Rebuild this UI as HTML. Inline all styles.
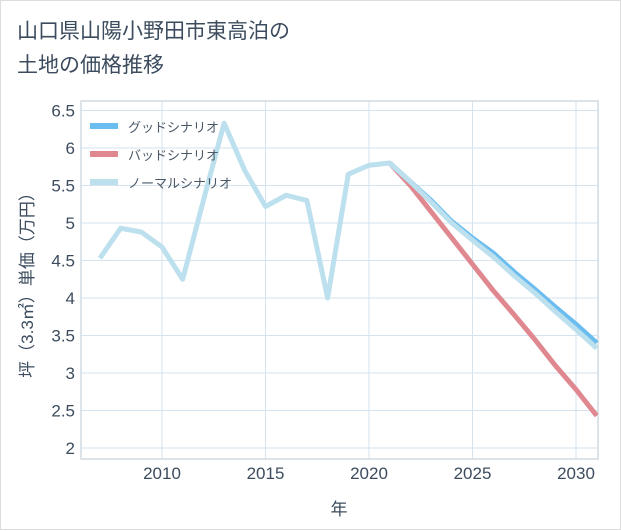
<!DOCTYPE html>
<html><head><meta charset="utf-8"><style>
body{margin:0;background:#fff;font-family:"Liberation Sans","Noto Sans CJK JP",sans-serif;}
#wrap{position:relative;width:621px;height:530px;box-sizing:border-box;border:1px solid #ddd;}
#title{position:absolute;left:16px;top:14px;font-size:21px;line-height:34px;color:#3c4c5e;}
</style></head><body>
<div id="wrap">
<div id="title">山口県山陽小野田市東高泊の<br>土地の価格推移</div>
<svg id="svg" width="621" height="530" style="position:absolute;left:0;top:0"></svg>
</div>
<script>
const years=[2007,2008,2009,2010,2011,2012,2013,2014,2015,2016,2017,2018,2019,2020,2021,2022,2023,2024,2025,2026,2027,2028,2029,2030,2031];
const normal=[4.53,4.93,4.88,4.68,4.25,5.3,6.33,5.7,5.22,5.37,5.3,4.0,5.65,5.77,5.8,5.55,5.28,5.0,4.77,4.55,4.3,4.07,3.82,3.58,3.33];
const goodYears=[2021,2022,2023,2024,2025,2026,2027,2028,2029,2030,2031];
const good=[5.8,5.55,5.3,5.02,4.8,4.6,4.35,4.12,3.88,3.65,3.4];
const bad=[5.8,5.5,5.15,4.8,4.45,4.1,3.78,3.45,3.1,2.78,2.43];
const yTicks=[2,2.5,3,3.5,4,4.5,5,5.5,6,6.5];
const xTicks=[2010,2015,2020,2025,2030];
const NS="http://www.w3.org/2000/svg",svg=document.getElementById('svg');
const L=80,R=597,T=100,B=458;
const x=v=>161+(v-2010)*20.7, y=v=>297-(v-4)*75;
function el(t,a,p){const e=document.createElementNS(NS,t);for(const k in a)e.setAttribute(k,a[k]);(p||svg).appendChild(e);return e;}
const bg=el('rect',{x:L,y:T,width:R-L,height:B-T,fill:'#fff',stroke:'#b8c8d6'});


yTicks.forEach(v=>{
 const g=el('line',{x1:L,x2:R,y1:y(v),y2:y(v),stroke:'#d3e3ef'});
 
 
 const t=el('text',{x:L-6,y:y(v)+6,'text-anchor':'end','font-size':17,fill:'#3c4c5e'});
 t.textContent=v;
 
 
});
xTicks.forEach(v=>{
 const g=el('line',{x1:x(v),x2:x(v),y1:T,y2:B,stroke:'#d3e3ef'});
 
 
 const t=el('text',{x:x(v),y:B+20,'text-anchor':'middle','font-size':17,fill:'#3c4c5e'});
 t.textContent=v;
 
 
});
const xt=el('text',{x:338,y:514,'text-anchor':'middle','font-size':17,fill:'#3c4c5e'});xt.textContent='年';


const yt=el('text',{x:0,y:0,'text-anchor':'middle','font-size':17,fill:'#3c4c5e',transform:'translate(32,280) rotate(-90)'});yt.textContent='坪（3.3㎡）単価（万円）';


const clip=el('clipPath',{id:'c'});el('rect',{x:L,y:T,width:R-L,height:B-T},clip);
function line(xs,vs,col,name){
 const p=el('polyline',{points:xs.map((v,i)=>x(v)+','+y(vs[i])).join(' '),fill:'none',stroke:col,'stroke-width':5,'stroke-linejoin':'round','clip-path':'url(#c)'});
 
 
}
line(goodYears,bad,'#e08890','bad-scenario-line');
line(goodYears,good,'#6bbdf0','good-scenario-line');
line(years,normal,'#bde0ee','normal-scenario-line');
const leg=[['グッドシナリオ','#6bbdf0'],['バッドシナリオ','#e08890'],['ノーマルシナリオ','#bde0ee']];
leg.forEach((d,i)=>{
 const g=el('g',{});
 
 
 el('rect',{x:89,y:122+i*28,width:28,height:6,fill:d[1]},g);
 const t=el('text',{x:127,y:131+i*28,'font-size':13,fill:'#4a5868'},g);t.textContent=d[0];
});
</script>
</body></html>
